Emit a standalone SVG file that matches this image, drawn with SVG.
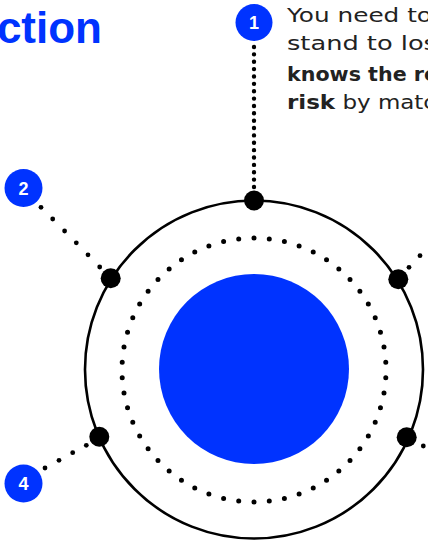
<svg xmlns="http://www.w3.org/2000/svg" width="428" height="544" viewBox="0 0 428 544">
  <style>
    .title { font-family: "Liberation Sans", Arial, sans-serif; font-weight: bold; font-size: 44px; fill: #0033ff; }
    .body { font-family: "DejaVu Sans", sans-serif; font-size: 20px; fill: #222222; }
    .b { font-weight: bold; }
    .badge { fill: #0033ff; }
    .num { font-family: "Liberation Sans", Arial, sans-serif; font-weight: bold; font-size: 18px; fill: #ffffff; text-anchor: middle; }
    .big { fill: #000000; }
    .sd { fill: #000000; }
    .ring { fill: none; stroke: #000000; stroke-width: 2.6; }
    .dring { fill: none; stroke: #000000; stroke-width: 5; stroke-linecap: round; stroke-dasharray: 0 1; }
    .vline { stroke: #000000; stroke-width: 4.4; stroke-linecap: round; stroke-dasharray: 0 7.368; }
  </style>

  <g id="title">
    <text class="title" x="102" y="43" text-anchor="end">ction</text>
  </g>

  <g id="text-1">
    <text class="body" x="287" y="22" textLength="145" lengthAdjust="spacingAndGlyphs">You need to</text>
    <text class="body" x="287" y="50" textLength="150" lengthAdjust="spacingAndGlyphs">stand to los</text>
    <text class="body b" x="287" y="81" textLength="151" lengthAdjust="spacingAndGlyphs">knows the re</text>
    <text class="body" x="287" y="109" textLength="149" lengthAdjust="spacingAndGlyphs"><tspan class="b">risk</tspan> by matc</text>
  </g>

  <g id="outer-ring">
    <circle class="ring" cx="254" cy="369.5" r="169"/>
  </g>

  <g id="inner-dotted-ring">
    <path class="dring" d="M254 238 a132 132 0 1 1 0 264 a132 132 0 1 1 0 -264" pathLength="54"/>
  </g>

  <g id="core">
    <circle cx="254" cy="369" r="95" fill="#0033ff"/>
  </g>

  <g id="connectors">
    <line class="vline" x1="254" y1="47" x2="254" y2="187.5"/>
    <circle class="sd" cx="41" cy="207.3" r="2.4"/>
    <circle class="sd" cx="52.7" cy="219" r="2.4"/>
    <circle class="sd" cx="64.6" cy="231" r="2.4"/>
    <circle class="sd" cx="76.3" cy="242.8" r="2.4"/>
    <circle class="sd" cx="88" cy="254.8" r="2.4"/>
    <circle class="sd" cx="99.7" cy="267" r="2.4"/>
    <circle class="sd" cx="45" cy="468" r="2.4"/>
    <circle class="sd" cx="59" cy="460.3" r="2.4"/>
    <circle class="sd" cx="72.7" cy="452.7" r="2.4"/>
    <circle class="sd" cx="86.3" cy="445.3" r="2.4"/>
    <circle class="sd" cx="409" cy="267.3" r="2.4"/>
    <circle class="sd" cx="420" cy="255.7" r="2.4"/>
    <circle class="sd" cx="423.3" cy="446" r="2.4"/>
  </g>

  <g id="point-top"><circle class="big" cx="254" cy="200.5" r="10"/></g>
  <g id="point-upper-left"><circle class="big" cx="110.7" cy="278.3" r="10"/></g>
  <g id="point-upper-right"><circle class="big" cx="398.3" cy="279.3" r="10"/></g>
  <g id="point-lower-left"><circle class="big" cx="99.3" cy="436.7" r="10"/></g>
  <g id="point-lower-right"><circle class="big" cx="406.7" cy="437.3" r="10"/></g>

  <g id="badge-1">
    <circle class="badge" cx="254" cy="22.5" r="18.5"/>
    <text class="num" x="254" y="29">1</text>
  </g>
  <g id="badge-2">
    <circle class="badge" cx="23.5" cy="188" r="19"/>
    <text class="num" x="23.5" y="194.5">2</text>
  </g>
  <g id="badge-4">
    <circle class="badge" cx="23.5" cy="483.5" r="19"/>
    <text class="num" x="23.5" y="490">4</text>
  </g>
</svg>
